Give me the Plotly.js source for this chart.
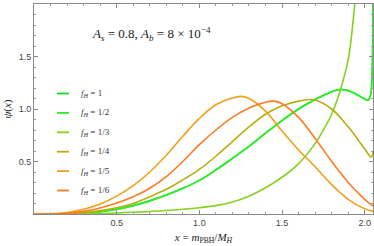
<!DOCTYPE html>
<html><head><meta charset="utf-8">
<script src="https://cdn.plot.ly/plotly-3.0.1.min.js"></script>
<style>html,body{margin:0;padding:0;background:#fff}#c{width:374px;height:246px}</style>
</head><body><div id="c"></div>
<script>
// Series labels and colours
const labels = ['<i>f</i><sub><i>H</i></sub> = 1','<i>f</i><sub><i>H</i></sub> = 1/2','<i>f</i><sub><i>H</i></sub> = 1/3','<i>f</i><sub><i>H</i></sub> = 1/4','<i>f</i><sub><i>H</i></sub> = 1/5','<i>f</i><sub><i>H</i></sub> = 1/6'];
const colors = ['#10e010','#2aee2a','#84d21e','#b8ae14','#f0a01a','#ff7a22'];

// f_H = 1 (coincides with f_H = 1/2 in the picture)
const x1 = [0,0.1,0.2,0.3,0.4,0.5,0.6,0.7,0.8,0.9,1.0,1.1,1.2,1.3,1.4,1.5,1.6,1.7,1.8,1.85,1.9,1.95,2.0,2.02,2.035,2.045,2.05];
const y1 = [0,0,0.002,0.008,0.022,0.045,0.08,0.125,0.18,0.245,0.32,0.42,0.53,0.645,0.77,0.89,1.0,1.09,1.165,1.185,1.175,1.14,1.095,1.085,1.13,1.35,2.1];
// f_H = 1/2
const x2 = x1.slice();
const y2 = y1.slice();
// f_H = 1/3
const x3 = [0,0.2,0.3,0.4,0.5,0.6,0.7,0.8,0.9,1.0,1.1,1.2,1.3,1.4,1.5,1.6,1.7,1.75,1.8,1.85,1.9,1.94,1.97];
const y3 = [0,0.001,0.002,0.005,0.01,0.017,0.024,0.033,0.045,0.06,0.08,0.115,0.17,0.25,0.35,0.48,0.67,0.8,0.95,1.17,1.47,2.0,2.5];
// f_H = 1/4
const x4 = [0,0.1,0.2,0.3,0.4,0.5,0.6,0.7,0.8,0.9,1.0,1.1,1.2,1.3,1.4,1.5,1.6,1.67,1.7,1.8,1.9,2.0,2.04,2.05];
const y4 = [0,0,0.003,0.012,0.033,0.06,0.1,0.165,0.235,0.325,0.425,0.55,0.69,0.83,0.95,1.03,1.075,1.09,1.085,1.0,0.83,0.62,0.54,0.6];
// f_H = 1/5
const x5 = [0,0.1,0.2,0.3,0.4,0.5,0.6,0.7,0.8,0.9,1.0,1.1,1.2,1.25,1.3,1.4,1.5,1.6,1.7,1.8,1.9,2.0,2.05];
const y5 = [0,0.002,0.014,0.045,0.095,0.17,0.27,0.4,0.56,0.74,0.91,1.04,1.105,1.12,1.1,0.98,0.79,0.61,0.45,0.28,0.14,0.05,0.025];
// f_H = 1/6
const x6 = [0,0.1,0.2,0.3,0.4,0.5,0.6,0.7,0.8,0.9,1.0,1.1,1.2,1.3,1.4,1.45,1.5,1.6,1.7,1.8,1.9,2.0,2.05];
const y6 = [0,0.001,0.006,0.025,0.058,0.105,0.165,0.245,0.355,0.5,0.66,0.8,0.92,1.01,1.065,1.075,1.05,0.92,0.72,0.5,0.3,0.14,0.075];

const xs = [x1,x2,x3,x4,x5,x6], ys = [y1,y2,y3,y4,y5,y6];
const tickVals = [0.5,1.0,1.5,2.0];
const tickText = ['0.5','1.0','1.5','2.0'];

const traces = xs.map((x,i)=>({x:x,y:ys[i],type:'scatter',mode:'lines',name:labels[i],
  line:{color:colors[i],width:1.6,shape:'spline',smoothing:1},showlegend:false,hoverinfo:'skip'}));

// custom legend (paper coordinates)
const L = 34, W = 339, T = 4, H = 210;
const px = v=>(v-L)/W, py = v=>(T+H-v)/H;
const shapes = [], annotations = [];
labels.forEach((lab,i)=>{
  const yy = py(93.5+19.4*i);
  shapes.push({type:'line',xref:'paper',yref:'paper',x0:px(57),x1:px(69),y0:yy,y1:yy,line:{color:colors[i],width:1.8}});
  annotations.push({xref:'paper',yref:'paper',x:px(79),y:yy,xanchor:'left',yanchor:'middle',showarrow:false,text:lab,
    font:{family:'Liberation Serif, DejaVu Serif, serif',size:9,color:'#333'}});
});
annotations.push({xref:'paper',yref:'paper',x:px(90),y:py(34),xanchor:'left',yanchor:'middle',align:'left',showarrow:false,
  text:'<i>A</i><sub><i>s</i></sub> = 0.8, <i>A</i><sub><i>b</i></sub> = 8 × 10<sup>−4</sup>',
  font:{family:'Liberation Serif, DejaVu Serif, serif',size:13,color:'#222'}});

const axisCommon = {showgrid:false,zeroline:false,showline:true,linecolor:'#8a8a8a',linewidth:1,mirror:'allticks',
  ticks:'inside',ticklen:4,tickcolor:'#8a8a8a',tickwidth:1,tickmode:'array',tickvals:tickVals,ticktext:tickText,
  tickfont:{family:'Liberation Sans, Arial, sans-serif',size:9,color:'#444'},
  minor:{dtick:0.1,tick0:0,ticks:'inside',ticklen:2,tickcolor:'#a0a0a0',tickwidth:1,showgrid:false}};

const layout = {width:374,height:246,margin:{l:34,r:1,t:4,b:32},paper_bgcolor:'#fff',plot_bgcolor:'#fff',
  xaxis:Object.assign({},axisCommon,{range:[0,2.05],
    title:{text:'<i>x</i> = <i>m</i><sub>PBH</sub>/<i>M</i><sub><i>H</i></sub>',standoff:6,
      font:{family:'Liberation Serif, DejaVu Serif, serif',size:11,color:'#222'}}}),
  yaxis:Object.assign({},axisCommon,{range:[0,2.0],
    title:{text:'<i>ψ</i>(<i>x</i>)',standoff:4,font:{family:'Liberation Serif, DejaVu Serif, serif',size:11,color:'#222'}}}),
  shapes:shapes,annotations:annotations,showlegend:false};

Plotly.newPlot('c',traces,layout,{staticPlot:true,displayModeBar:false});
</script></body></html>
